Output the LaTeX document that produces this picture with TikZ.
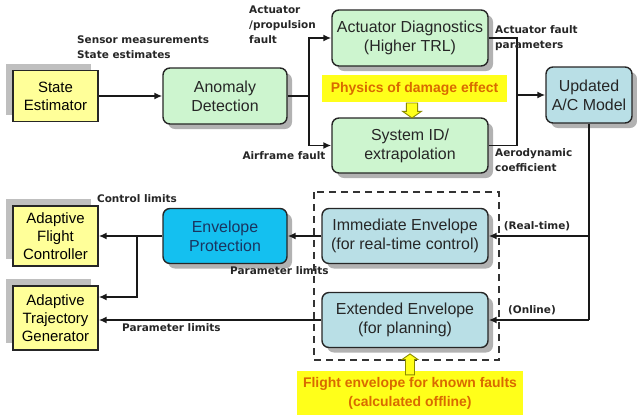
\documentclass[tikz,border=0pt]{standalone}
\usepackage{fontspec}
\setmainfont{Liberation Sans}
\newfontfamily\lblfont{DejaVu Sans}
\usetikzlibrary{arrows.meta,shapes.arrows,shadows}
\definecolor{mint}{HTML}{CDF5CF}
\definecolor{paleblue}{HTML}{B9DFE6}
\definecolor{cyanbox}{HTML}{14C0F0}
\definecolor{paleyellow}{HTML}{FFFF99}
\definecolor{hiyellow}{HTML}{FFFF1A}
\definecolor{orangetext}{HTML}{D96A00}
\definecolor{olive}{HTML}{8A8A00}
\definecolor{darkblue}{HTML}{1A3560}
\begin{document}
\begin{tikzpicture}[x=1bp,y=-1bp,
  rbox/.style={draw=black!85, line width=1.4bp, rounded corners=7bp, align=center,
    inner sep=0pt, font=\fontsize{16}{19}\selectfont, text=black!85,
    drop shadow={shadow xshift=5bp, shadow yshift=-5bp, fill=black!30, opacity=1}},
  ybox/.style={draw=black!85, line width=1.4bp, fill=paleyellow, align=center,
    inner sep=0pt, minimum width=85bp, font=\fontsize{15}{18}\selectfont,
    drop shadow={shadow xshift=-7bp, shadow yshift=7bp, fill=black!25, opacity=1}},
  lbl/.style={font=\lblfont\bfseries\fontsize{10.5}{15}\selectfont, text=black!85, inner sep=0pt, align=left},
  conn/.style={line width=1.6bp, draw=black!90},
  arr/.style={conn, -{Latex[length=8bp,width=7bp]}},
  hollow/.style={single arrow, draw=olive, fill=hiyellow, line width=0.9bp,
    inner sep=0pt, single arrow head extend=3.5bp, single arrow tip angle=110},
  hi/.style={fill=hiyellow, text=orangetext, align=center, inner sep=0pt,
    font=\bfseries\fontsize{14}{19}\selectfont}
]
\useasboundingbox (0,0) rectangle (637,414);

% boxes
\node[ybox, minimum height=51bp] (SE) at (55.5,96) {State\\Estimator};
\node[rbox, fill=mint, minimum width=124bp, minimum height=56bp] (AD) at (225,96) {Anomaly\\Detection};
\node[rbox, fill=mint, minimum width=156bp, minimum height=56bp] (ActD) at (410,38) {Actuator Diagnostics\\(Higher TRL)};
\node[rbox, fill=mint, minimum width=156bp, minimum height=55bp] (SID) at (410,145.5) {System ID/\\extrapolation};
\node[rbox, fill=paleblue, minimum width=86bp, minimum height=56bp] (UPD) at (589,95) {Updated\\A/C Model};
\node[rbox, fill=paleblue, minimum width=166bp, minimum height=55bp] (IE) at (405,236) {Immediate Envelope\\(for real-time control)};
\node[rbox, fill=paleblue, minimum width=166bp, minimum height=55bp] (EE) at (405,320) {Extended Envelope\\(for planning)};
\node[rbox, fill=cyanbox, text=darkblue, minimum width=124bp, minimum height=55bp] (EP) at (225,236) {Envelope\\Protection};
\node[ybox, minimum height=60bp] (AFC) at (55.5,236) {Adaptive\\Flight\\Controller};
\node[ybox, minimum height=64bp] (ATG) at (55.5,318) {Adaptive\\Trajectory\\Generator};

% dashed frame
\draw[line width=1.6bp, draw=black!80, dash pattern=on 7bp off 5bp] (314,192) rectangle (499,360);

% highlights
\node[hi, minimum width=185bp, minimum height=27bp] (PH) at (414.5,88.5) {Physics of damage effect};
\node[hollow, shape border rotate=270, minimum height=15bp, minimum width=19bp, text width=9bp] (PA) at (412,108.5) {};
\node[hi, minimum width=226bp, minimum height=44bp] (FE) at (410,393) {Flight envelope for known faults\\(calculated offline)};
\node[hollow, shape border rotate=90, minimum height=21bp, minimum width=16bp, text width=8bp] (FA) at (410,366) {};

% connectors
\coordinate (sp) at (309,96);
\coordinate (jn) at (517,95);
\draw[arr] (SE.east) -- (AD.west);
\draw[conn] (AD.east) -- (sp);
\draw[arr] (sp) |- (ActD.west);
\draw[arr] (sp) |- (SID.west);
\draw[conn] (ActD.east) -| (jn);
\draw[conn] (SID.east) -| (jn);
\draw[arr] (jn) -- (UPD.west);
\draw[conn] (UPD.south) -- (UPD.south |- EE.east);
\draw[arr] (UPD.south |- IE.east) -- (IE.east);
\draw[arr] (UPD.south |- EE.east) -- (EE.east);
\draw[arr] (IE.west) -- (EP.east);
\draw[arr] (EP.west) -- (AFC.east);
\coordinate (br) at (137,236);
\draw[arr] (br) |- ([yshift=21bp]ATG.east);
\draw[arr] (EE.west) -- (EE.west -| ATG.east);

% labels
\node[lbl, anchor=north west] (l1) at (77,36) {Sensor measurements\\State estimates};
\node[lbl, anchor=north west] (l2) at (249,5.5) {Actuator\\/propulsion\\fault};
\node[lbl] (l3) at (284,156) {Airframe fault};
\node[lbl, anchor=north west] (l4) at (495,25) {Actuator fault\\parameters};
\node[lbl, anchor=north west] (l5) at (495,148) {Aerodynamic\\coefficient};
\node[lbl] (l6) at (537,226) {(Real-time)};
\node[lbl] (l7) at (532,310) {(Online)};
\node[lbl] (l8) at (137,199) {Control limits};
\node[lbl, anchor=west] (l9) at (230,271) {Parameter limits};
\node[lbl, anchor=west] (l10) at (122,328) {Parameter limits};
\end{tikzpicture}
\end{document}
